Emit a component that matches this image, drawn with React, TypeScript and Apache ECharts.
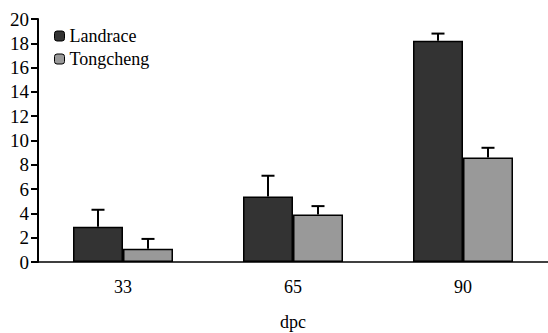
import React, { useEffect, useRef } from "react";
import * as echarts from "echarts";

const categories = ["33", "65", "90"];
const landrace = [2.9, 5.4, 18.2];
const landraceErr = [1.4, 1.7, 0.6];
const tongcheng = [1.1, 3.9, 8.6];
const tongchengErr = [0.8, 0.7, 0.8];
const yTicks = { min: 0, max: 20, interval: 2 };

const FONT = "Liberation Serif";

function errorSeries(name: string, values: number[], errs: number[], offset: number) {
  return {
    type: "custom",
    name: name + "-err",
    silent: true,
    z: 1,
    data: values.map((v, i) => [i, v, v + errs[i]]),
    renderItem: (params: any, api: any) => {
      const base = api.coord([api.value(0), api.value(1)]);
      const top = api.coord([api.value(0), api.value(2)]);
      const x = base[0] + offset;
      const cap = 6.5;
      return {
        type: "group",
        children: [
          {
            type: "line",
            shape: { x1: x, y1: base[1], x2: x, y2: top[1] },
            style: { stroke: "#000", lineWidth: 2 },
          },
          {
            type: "line",
            shape: { x1: x - cap, y1: top[1], x2: x + cap, y2: top[1] },
            style: { stroke: "#000", lineWidth: 2 },
          },
        ],
      };
    },
  };
}

export default function App() {
  const ref = useRef<HTMLDivElement>(null);
  useEffect(() => {
    const chart = echarts.init(ref.current!, null, { renderer: "svg" });
    chart.setOption({
      animation: false,
      backgroundColor: "#fff",
      textStyle: { fontFamily: FONT },
      grid: { left: 38, right: 0, top: 19, bottom: 71, outerBoundsMode: "none", containLabel: false },
      legend: {
        orient: "vertical",
        left: 54,
        top: 27,
        padding: 0,
        itemWidth: 10,
        itemHeight: 10,
        itemGap: 5,
        data: ["Landrace", "Tongcheng"],
        textStyle: { fontFamily: FONT, fontSize: 18, color: "#000" },
        itemStyle: { borderColor: "#000", borderWidth: 1 },
      },
      xAxis: {
        type: "category",
        data: categories,
        name: "dpc",
        nameLocation: "middle",
        nameGap: 60,
        nameTextStyle: { fontFamily: FONT, fontSize: 18, color: "#000", verticalAlign: "middle" },
        axisLine: { lineStyle: { color: "#000", width: 1.5 } },
        axisTick: { alignWithLabel: true, length: 6, lineStyle: { color: "#000", width: 2 } },
        axisLabel: { fontFamily: FONT, fontSize: 18, color: "#000", margin: 16 },
      },
      yAxis: {
        type: "value",
        min: yTicks.min,
        max: yTicks.max,
        interval: yTicks.interval,
        splitLine: { show: false },
        axisLine: { show: true, lineStyle: { color: "#000", width: 2 } },
        axisTick: { show: true, length: 7, lineStyle: { color: "#000", width: 2 } },
        axisLabel: { fontFamily: FONT, fontSize: 19, color: "#000", margin: 9 },
      },
      series: [
        {
          type: "bar",
          name: "Landrace",
          data: landrace,
          barWidth: 50,
          barGap: "0%",
          z: 2,
          itemStyle: { color: "#333333", borderColor: "#000", borderWidth: 1.5 },
        },
        {
          type: "bar",
          name: "Tongcheng",
          data: tongcheng,
          barWidth: 50,
          barGap: "0%",
          z: 2,
          itemStyle: { color: "#999999", borderColor: "#000", borderWidth: 1.5 },
        },
        errorSeries("Landrace", landrace, landraceErr, -25),
        errorSeries("Tongcheng", tongcheng, tongchengErr, 25),
      ],
    });
    return () => chart.dispose();
  }, []);
  return <div ref={ref} style={{ width: 548, height: 333, position: "fixed", left: 0, top: 0 }} />;
}
